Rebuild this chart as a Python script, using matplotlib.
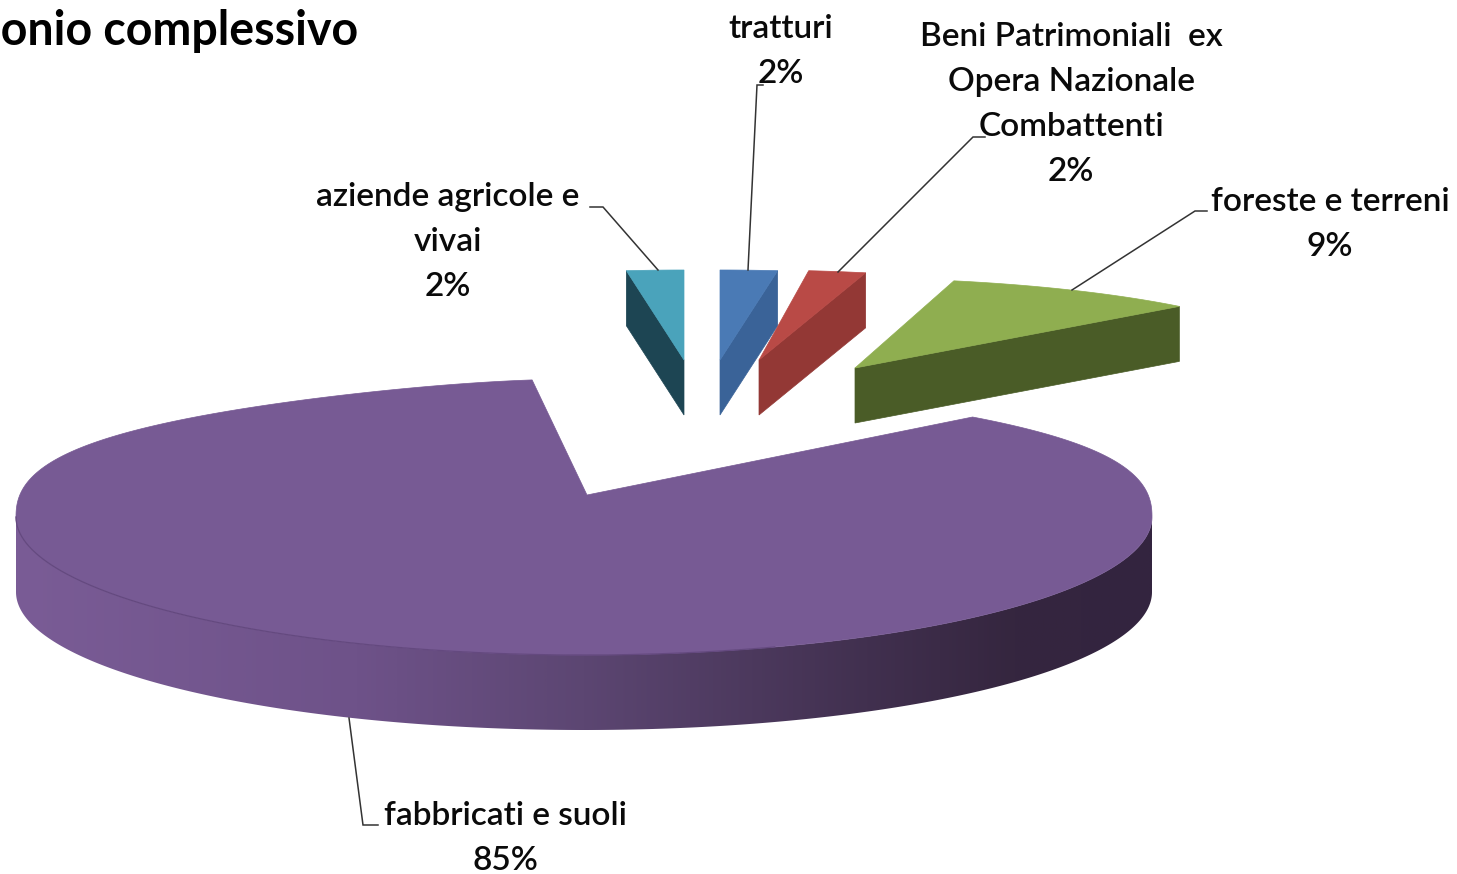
import numpy as np
import matplotlib
matplotlib.use("Agg")
import matplotlib.pyplot as plt
from matplotlib.colors import LinearSegmentedColormap
from matplotlib.patches import Polygon

# ---- data (pie order, clockwise from 12 o'clock)
categories = ["tratturi", "Beni Patrimoniali ex Opera Nazionale Combattenti",
              "foreste e terreni", "fabbricati e suoli", "aziende agricole e vivai"]
percent = [2, 2, 9, 85, 2]
title_text = "Patrimonio complessivo"

# ---- label layout
label_lines = [["tratturi"],
               ["Beni Patrimoniali  ex", "Opera Nazionale", "Combattenti"],
               ["foreste e terreni"],
               ["fabbricati e suoli"],
               ["aziende agricole e", "vivai"]]
label_cx = [781, 1071, 1330, 505, 448]
label_y0 = [29, 37, 202, 816, 197]
leaders = [[(748, 270), (757, 85), (763, 85)],
           [(838, 272), (973, 137), (985, 137)],
           [(1072, 290), (1195, 211), (1207, 211)],
           [(349, 718), (363, 825), (378, 825)],
           [(658, 270), (603, 207), (590, 207)]]

# ---- slice geometry / style
apex_x = [720, 759, 855, 587, 684]
apex_y = [360, 360, 368, 495, 360]
lean = [0, -8, -16, 0, 0]
top_col = ["#4a7ab5", "#b94a46", "#8fae50", "#775a94", "#4aa3bb"]
wall_col = ["#3a6398", "#933835", "#4a5c27", "#33243f", "#1d4553"]
SMALL_RX, SMALL_RY, SMALL_DEPTH = 460, 90, 55
MAIN_CX, MAIN_CY, MAIN_RX, MAIN_RY, MAIN_DEPTH = 584, 517, 568, 138, 75

plt.rcParams["font.family"] = ["Lato", "DejaVu Sans"]

fig = plt.figure(figsize=(14.57, 8.74), dpi=100, facecolor="white")
ax = fig.add_axes([0, 0, 1, 1])
ax.set_xlim(0, 1457)
ax.set_ylim(874, 0)
ax.axis("off")


def main_xy(t):
    s, c = np.sin(t), np.cos(t)
    up = np.clip(s, 0, 1)
    x = MAIN_CX + MAIN_RX * c * (1 - 0.28 * up ** 4)
    y = MAIN_CY - MAIN_RY * np.where(s > 0, up ** 0.85, s)
    return x, y


bounds = 90 - np.concatenate([[0], np.cumsum(percent)]) * 3.6

for i, pct in enumerate(percent):
    t0, t1 = np.radians(bounds[i]), np.radians(bounds[i + 1])
    ts = np.linspace(t0, t1, 500 if pct > 50 else 40)
    ax_, ay_ = apex_x[i], apex_y[i]
    if pct > 50:
        # gradient rim: bottom half of the disc, dark towards the right
        cmap = LinearSegmentedColormap.from_list(
            "rim", [(0, "#7a5c96"), (0.3, "#6e5289"), (0.5, "#5c4672"),
                    (0.75, "#41304f"), (0.88, "#35263f"), (1, "#33243f")])
        rim = np.radians(np.linspace(180, 360, 400))
        rx, ry = main_xy(rim)
        outline = np.c_[np.r_[rx, rx[::-1]], np.r_[ry, ry[::-1] + MAIN_DEPTH]]
        im = ax.imshow(np.linspace(0, 1, 512)[None, :], cmap=cmap, aspect="auto",
                       extent=(rx[0], rx[-1], ry.max() + MAIN_DEPTH, ry.min()),
                       interpolation="bilinear", zorder=2)
        clip = Polygon(outline, transform=ax.transData, facecolor="none", edgecolor="none")
        ax.add_patch(clip)
        im.set_clip_path(clip)
        x, y = main_xy(ts)
        ax.fill(np.r_[ax_, x], np.r_[ay_, y], color=top_col[i], lw=0.5, zorder=3)
        mask = rim < np.radians(290)
        ax.plot(rx[mask], ry[mask], color="#64497f", lw=0.9, zorder=4)
    else:
        x = ax_ + SMALL_RX * np.cos(ts) + lean[i] * np.sin(ts)
        y = ay_ - SMALL_RY * np.sin(ts)
        e = 0 if abs(np.cos(t0)) > abs(np.cos(t1)) else -1
        ax.fill([x[e], x[e], ax_, ax_],
                [y[e], y[e] + SMALL_DEPTH, ay_ + SMALL_DEPTH, ay_],
                color=wall_col[i], lw=0.5, zorder=2)
        ax.fill(np.r_[ax_, x], np.r_[ay_, y], color=top_col[i], lw=0.5, zorder=3)

ax.set_xlim(0, 1457)
ax.set_ylim(874, 0)

# leader lines
for pts in leaders:
    xs, ys = zip(*pts)
    ax.plot(xs, ys, color="#333333", lw=1.1, zorder=5, solid_joinstyle="miter")

# labels
FS = 24
for lines, cx, y0, pct in zip(label_lines, label_cx, label_y0, percent):
    rows = lines + [f"{pct}%"]
    for k, row in enumerate(rows):
        ax.text(cx, y0 + 45 * k, row, ha="center", va="center", fontsize=FS,
                color="#0a0a0a", fontweight="semibold", zorder=6)

# title (clipped by the left edge of the image, as in the source)
ax.text(358, 45, title_text, ha="right", va="baseline", fontsize=33.5,
        fontweight="bold", color="black", zorder=6)

fig.savefig("out.png", dpi=100, facecolor="white")
